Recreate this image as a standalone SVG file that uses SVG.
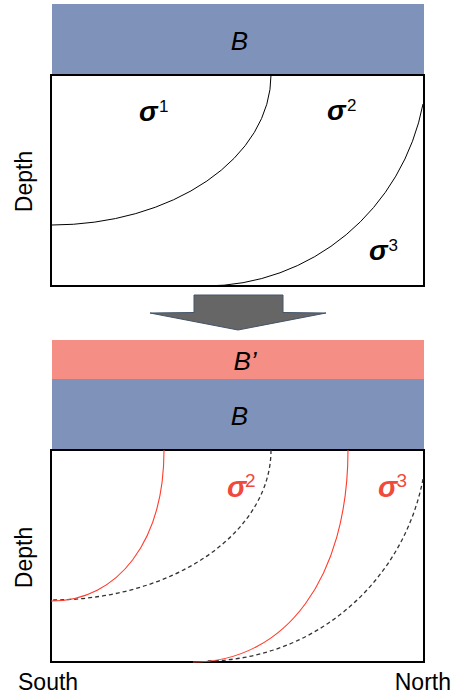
<svg xmlns="http://www.w3.org/2000/svg" width="454" height="696" viewBox="0 0 454 696">
<style>
  .blue{fill:#7F93BA}
  .pink{fill:#F58F86}
  .box{fill:#FFFFFF;stroke:#000;stroke-width:2}
  .lbl{font-family:"Liberation Sans",Arial,sans-serif;font-style:italic;font-size:26px;fill:#000}
  .axis{font-family:"Liberation Sans",Arial,sans-serif;font-size:23px;fill:#000}
  .sig{font-family:"Liberation Sans",Arial,sans-serif;font-style:italic;font-weight:bold;font-size:28px}
  .sup{font-family:"Liberation Sans",Arial,sans-serif;font-size:17px}
  .k{fill:#000}
  .r{fill:#EF4A3A}
  .old{fill:none;stroke:#000;stroke-width:1}
  .dash{fill:none;stroke:#333;stroke-width:1.3;stroke-dasharray:4 3}
  .new{fill:none;stroke:#FF3B2B;stroke-width:1.1}
</style>
<rect width="454" height="696" fill="#FFFFFF"/>

<g id="top-panel">
  <g id="B-top">
    <rect class="blue" x="52" y="4" width="372" height="71"/>
    <text class="lbl" x="239.5" y="50" text-anchor="middle">B</text>
  </g>
  <g id="box-top">
    <rect class="box" x="51" y="75" width="373" height="211"/>
  </g>
  <g id="curves-top">
    <path class="old" d="M271,75 A219,150 0 0 1 52,225"/>
    <path class="old" d="M423,104 A222,225 0 0 1 205,286"/>
  </g>
  <g id="labels-top">
    <text class="sig k" x="139" y="121">σ</text>
    <text class="sup k" x="159" y="112">1</text>
    <text class="sig k" x="327" y="120">σ</text>
    <text class="sup k" x="347" y="111">2</text>
    <text class="sig k" x="369" y="260">σ</text>
    <text class="sup k" x="388.5" y="250.5">3</text>
  </g>
  <text class="axis" transform="translate(31.5,181.5) rotate(-90)" text-anchor="middle">Depth</text>
</g>

<g id="arrow">
  <polygon points="194,295 283,295 283,312.5 326,313 238,330 150,313 194,312.5" fill="#666666" stroke="#44546A" stroke-width="1"/>
</g>

<g id="bottom-panel">
  <g id="Bprime">
    <rect class="pink" x="52" y="340" width="372" height="39"/>
    <text class="lbl" x="245" y="369.5" text-anchor="middle">B’</text>
  </g>
  <g id="B-bottom">
    <rect class="blue" x="52" y="379" width="372" height="71"/>
    <text class="lbl" x="239.5" y="425" text-anchor="middle">B</text>
  </g>
  <g id="box-bottom">
    <rect class="box" x="51" y="450" width="373" height="212"/>
  </g>
  <g id="curves-bottom">
    <path class="dash" d="M271,450 A219,150 0 0 1 52,600"/>
    <path class="dash" d="M423,479 A222,225 0 0 1 205,661"/>
    <path class="new" d="M164,450 C164,540.6 118.8,601 51,601"/>
    <path class="new" d="M348,450 C348,577.2 286,662 193,662"/>
  </g>
  <g id="labels-bottom">
    <text class="sig r" x="227" y="497" style="font-size:29px">σ</text>
    <text class="sup r" x="245" y="487" style="font-size:19px">2</text>
    <text class="sig r" x="378" y="497" style="font-size:29px">σ</text>
    <text class="sup r" x="396.5" y="487" style="font-size:19px">3</text>
  </g>
  <text class="axis" transform="translate(31.5,557.5) rotate(-90)" text-anchor="middle">Depth</text>
  <text class="axis" x="18" y="690">South</text>
  <text class="axis" x="451" y="690" text-anchor="end">North</text>
</g>
</svg>
